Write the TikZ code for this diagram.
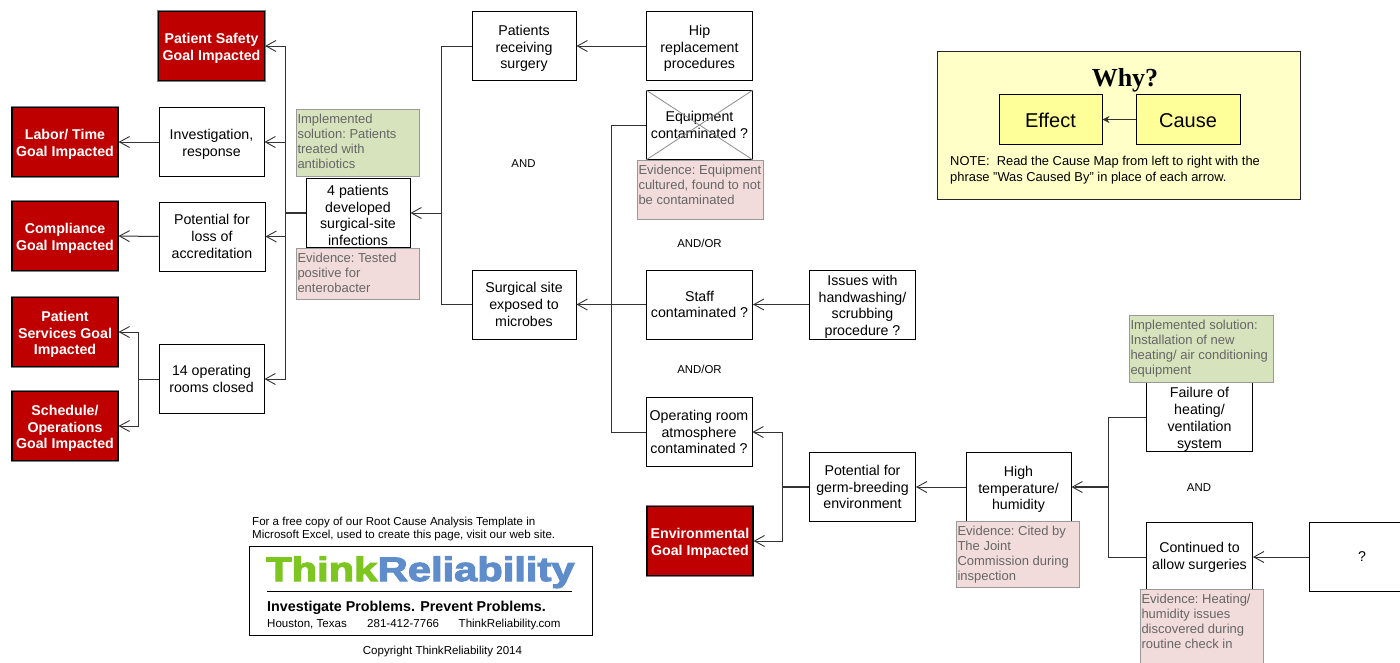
\documentclass[tikz,border=0pt]{standalone}
\usepackage{fontspec}
\setmainfont{Liberation Sans}
\newfontfamily\whyfont{Liberation Serif}
\newfontfamily\logofont[BoldFeatures={FakeBold=3}]{Liberation Sans}
\usetikzlibrary{arrows.meta}
\definecolor{goalred}{HTML}{BE0000}
\definecolor{notegreen}{HTML}{D7E3BC}
\definecolor{notepink}{HTML}{F2DCDB}
\definecolor{notetext}{HTML}{666666}
\definecolor{legendbg}{HTML}{FFFFC8}
\definecolor{legendbox}{HTML}{FFFF99}
\definecolor{logogreen}{HTML}{7DC51F}
\definecolor{logoblue}{HTML}{5F8CCB}
\newcommand{\fl}{\rule{0pt}{15pt}}
\tikzset{
  cause/.style={draw=black,line width=1pt,fill=white,minimum width=106pt,minimum height=69pt,inner sep=0pt,align=center,font=\fontsize{14.2}{16.7}\selectfont},
  goal/.style={cause,draw=black,fill=goalred,text=white,line width=1.2pt,font=\fontsize{14.2}{16.8}\selectfont\bfseries,preaction={draw=gray,line width=2.8pt}},
  note/.style 2 args={draw=black!40,line width=1pt,anchor=north west,inner xsep=1pt,inner ysep=4.5pt,text width=#1,align=flush left,text=notetext,font=\fontsize{13}{15}\selectfont\frenchspacing,execute at end node={\par\vspace*{#2}}},
  solution/.style 2 args={note={#1}{#2},fill=notegreen},
  evidence/.style 2 args={note={#1}{#2},fill=notepink},
  logic/.style={inner sep=0pt,font=\fontsize{11.4}{13}\selectfont},
  small/.style={inner sep=0pt,anchor=north west,align=left,font=\fontsize{11.55}{13}\selectfont},
  link/.style={draw=black!80,line width=1pt},
  stem/.style={draw=black!80,line width=1.6pt},
  arrow/.style={link,-{Straight Barb[length=10pt,width=11pt,line width=.9pt]}},
  logoword/.style={inner sep=0pt,anchor=base west,xscale=1.225,transform shape,font=\fontsize{34}{36}\selectfont\logofont\bfseries}
}
\begin{document}
\begin{tikzpicture}[x=1pt,y=-1pt]
 \useasboundingbox (0,0) rectangle (1400,662);
 % impacted goals
 \node[goal] (safety) at (211.5,46) {\fl Patient Safety\\Goal Impacted};
 \node[goal] (labor) at (65,142) {\fl Labor/ Time\\Goal Impacted};
 \node[goal] (compliance) at (65,236) {\fl Compliance\\Goal Impacted};
 \node[goal] (services) at (65,332) {\fl Patient\\Services Goal\\Impacted};
 \node[goal] (schedule) at (65,426) {\fl Schedule/\\Operations\\Goal Impacted};
 \node[goal] (environ) at (700,541) {\fl Environmental\\Goal Impacted};
 % causes
 \node[cause,minimum width=105pt] (invest) at (211.5,142) {\fl Investigation,\\response};
 \node[cause] (accred) at (212,236.5) {Potential for\\loss of\\accreditation};
 \node[cause,minimum width=105pt] (rooms) at (211.5,379) {14 operating\\rooms closed};
 \node[cause,minimum width=104pt] (patients) at (358,213) {\fl 4 patients\\developed\\surgical-site\\infections};
 \node[cause,minimum width=104pt] (surgery) at (524,46) {\fl Patients\\receiving\\surgery};
 \node[cause,minimum width=104pt] (exposed) at (524,304.5) {Surgical site\\exposed to\\microbes};
 \node[cause] (hip) at (699.5,46) {\fl Hip\\replacement\\procedures};
 \node[cause] (equip) at (699.5,125) {Equipment\\contaminated ?};
 \node[cause] (staff) at (699.5,304.5) {Staff\\contaminated ?};
 \node[cause] (atmos) at (699,432) {Operating room\\atmosphere\\contaminated ?};
 \node[cause] (hand) at (862.5,304.5) {\fl Issues with\\handwashing/\\scrubbing\\procedure ?};
 \node[cause] (germ) at (862.5,487) {Potential for\\germ-breeding\\environment};
 \node[cause,minimum width=105pt] (humid) at (1018.5,487) {\fl High\\temperature/\\humidity};
 \node[cause] (failure) at (1199.5,417) {\fl Failure of\\heating/\\ventilation\\system};
 \node[cause] (allow) at (1199.5,557) {Continued to\\allow surgeries};
 \node[cause] (unknown) at (1362,557) {?};
 \draw[black!45,line width=.8pt] (equip.north west) -- (equip.south east);
 \draw[black!45,line width=.8pt] (equip.north east) -- (equip.south west);
 % logic labels
 \node[logic] (and1) at (523.5,163.5) {AND};
 \node[logic] (andor1) at (699.5,243.5) {AND/OR};
 \node[logic] (andor2) at (699.5,369.5) {AND/OR};
 \node[logic] (and2) at (1199,487.5) {AND};
 % junctions
 \coordinate (jpatients) at (285,213);
 \coordinate (jrooms) at (138,379);
 \coordinate (jupper) at (441,213);
 \coordinate (jexposed) at (611,304.5);
 \coordinate (jgerm) at (782,487);
 \coordinate (jhumid) at (1108,487);
 % connectors
 \draw[stem] (patients.west) -- (jpatients);
 \draw[arrow] (jpatients) |- (safety.east);
 \draw[arrow] (jpatients) |- (invest.east);
 \draw[arrow] (jpatients) |- (accred.east);
 \draw[arrow] (jpatients) |- (rooms.east);
 \draw[arrow] (invest.west) -- (labor.east);
 \draw[arrow] (accred.west) -- (compliance.east);
 \draw[link] (rooms.west) -- (jrooms);
 \draw[arrow] (jrooms) |- (services.east);
 \draw[arrow] (jrooms) |- (schedule.east);
 \draw[arrow] (jupper) -- (patients.east);
 \draw[link] (surgery.west) -| (jupper);
 \draw[link] (exposed.west) -| (jupper);
 \draw[arrow] (hip.west) -- (surgery.east);
 \draw[stem] (jexposed) -- ([xshift=3pt]exposed.east);
 \draw[arrow] (staff.west) -- (exposed.east);
 \draw[link] (equip.west) -| (jexposed);
 \draw[link] (atmos.west) -| (jexposed);
 \draw[arrow] (hand.west) -- (staff.east);
 \draw[stem] (germ.west) -- (jgerm);
 \draw[arrow] (jgerm) |- (atmos.east);
 \draw[arrow] (jgerm) |- (environ.east);
 \draw[arrow] (humid.west) -- (germ.east);
 \draw[stem] (jhumid) -- ([xshift=3pt]humid.east);
 \draw[arrow] (jhumid) -- (humid.east);
 \draw[link] (failure.west) -| (jhumid);
 \draw[link] (allow.west) -| (jhumid);
 \draw[arrow] (unknown.west) -- (allow.east);
 % solutions and evidence
 \node[solution={121pt}{3pt}] (solA) at (296,109) {Implemented\\solution: Patients\\treated with\\antibiotics};
 \node[evidence={121pt}{2pt}] (eviA) at (296,248) {Evidence: Tested\\positive for\\enterobacter};
 \node[evidence={123.5pt}{10pt}] (eviB) at (637,160) {Evidence: Equipment\\cultured, found to not\\be contaminated};
 \node[evidence={121pt}{0pt}] (eviC) at (956,521) {Evidence: Cited by\\The Joint\\Commission during\\inspection};
 \node[solution={142pt}{1pt}] (solB) at (1129,315) {Implemented solution:\\Installation of new\\heating/ air conditioning\\equipment};
 \node[evidence={121pt}{20pt}] (eviD) at (1140,589) {Evidence: Heating/\\humidity issues\\discovered during\\routine check in};
 % legend
 \node[draw=black!85,fill=legendbg,line width=1pt,minimum width=363pt,minimum height=148pt,inner sep=0pt] (legend) at (1118.5,125) {};
 \node[inner sep=0pt,font=\fontsize{26}{28}\selectfont\whyfont\bfseries] (why) at (1125,80) {Why?};
 \node[cause,fill=legendbox,minimum width=103pt,minimum height=50pt,font=\fontsize{20}{22}\selectfont] (effect) at (1050.5,119.5) {\rule{0pt}{16pt}Effect};
 \node[cause,fill=legendbox,minimum width=104pt,minimum height=50pt,font=\fontsize{20}{22}\selectfont] (causebox) at (1188,119.5) {\rule{0pt}{16pt}Cause};
 \draw[link,-{Stealth[length=7pt,width=7pt]}] (causebox.west) -- (effect.east);
 \node[small,font=\fontsize{12.9}{16}\selectfont] (readnote) at (950,155.5) {NOTE:\ \ Read the Cause Map from left to right with the\\phrase "Was Caused By" in place of each arrow.};
 % logo block
 \node[small] (freecopy) at (252,517) {For a free copy of our Root Cause Analysis Template in\\Microsoft Excel, used to create this page, visit our web site.};
 \node[draw=black,line width=1pt,fill=white,minimum width=343pt,minimum height=89pt,inner sep=0pt] (logobox) at (420.5,590.5) {};
 \node[logoword,text=logogreen] (think) at (266,581) {Think};
 \node[logoword,text=logoblue] (reliab) at (think.base east) {Reliability};
 \coordinate (ruleL) at (267,591);
 \coordinate (ruleR) at (572,591);
 \draw[black,line width=1pt] (ruleL) -- (ruleR);
 \node[inner sep=0pt,anchor=base west,font=\fontsize{14.3}{16}\selectfont\bfseries] (motto) at (267,611) {Investigate Problems. Prevent Problems.};
 \node[inner sep=0pt,anchor=base west,font=\fontsize{11.55}{13}\selectfont] (city) at (267,627) {Houston, Texas};
 \node[inner sep=0pt,anchor=base west,font=\fontsize{11.55}{13}\selectfont] (phone) at (367,627) {281-412-7766};
 \node[inner sep=0pt,anchor=base west,font=\fontsize{11.55}{13}\selectfont] (site) at (458.5,627) {ThinkReliability.com};
 \node[inner sep=0pt,font=\fontsize{11.55}{13}\selectfont] (copyr) at (442.5,652) {Copyright ThinkReliability 2014};
\end{tikzpicture}
\end{document}
